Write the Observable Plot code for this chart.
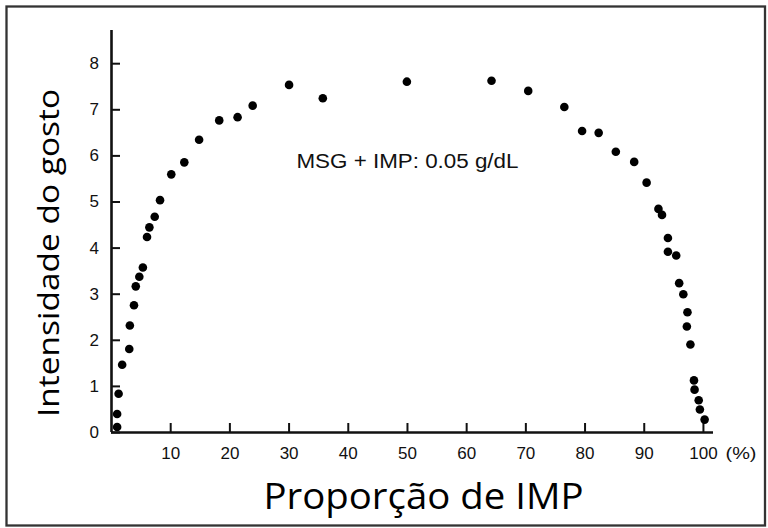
<!DOCTYPE html>
<html>
<head>
<meta charset="utf-8">
<script src="https://cdn.jsdelivr.net/npm/d3@7"></script>
<script src="https://cdn.jsdelivr.net/npm/@observablehq/plot@0.6"></script>
<style>
  html, body { margin: 0; padding: 0; background: #fff; }
  #chart { width: 768px; height: 528px; }
</style>
</head>
<body>
<div id="chart"></div>
<script>
// Proportion of IMP (%) in the MSG + IMP mixture
const imp = [0.95, 0.95, 1.2, 1.8, 3.0, 3.1, 3.8, 4.1, 4.7, 5.3, 6.0, 6.4, 7.3, 8.2,
  10.1, 12.3, 14.8, 18.2, 21.3, 23.85, 30.0, 35.7, 49.9, 64.2, 70.4, 76.5, 79.5,
  82.3, 85.2, 88.3, 90.4, 92.4, 93.0, 94.0, 94.0, 95.4, 95.9, 96.6, 97.3, 97.2,
  97.8, 98.4, 98.5, 99.2, 99.4, 100.2];
// Taste intensity
const intensity = [0.12, 0.40, 0.84, 1.47, 1.81, 2.32, 2.76, 3.17, 3.38, 3.58, 4.24,
  4.45, 4.68, 5.04, 5.60, 5.86, 6.35, 6.77, 6.84, 7.09, 7.54, 7.25, 7.61, 7.63,
  7.41, 7.06, 6.54, 6.50, 6.09, 5.87, 5.42, 4.85, 4.72, 4.22, 3.92, 3.84, 3.24,
  3.00, 2.61, 2.30, 1.91, 1.13, 0.93, 0.70, 0.50, 0.28];
const xTicks = [10, 20, 30, 40, 50, 60, 70, 80, 90, 100];
const yTicks = [0, 1, 2, 3, 4, 5, 6, 7, 8];
const xDomain = [0, 101.7];
const yDomain = [0, 8.72];
const xTitle = "Proporção de IMP";
const yTitle = "Intensidade do gosto";
const unitLabel = "(%)";
const annotation = [{x: 50, y: 5.88, text: "MSG + IMP: 0.05 g/dL"}];

const points = imp.map((x, i) => ({x, y: intensity[i]}));

const W = 768, H = 528;
const mL = 111, mR = 55, mT = 30, mB = 96;
const frameW = W - mL - mR, frameH = H - mT - mB;
const tickLen = 9;

const tickFont = "'Liberation Sans', Arial, sans-serif";
const titleFont = "'Open Sans', 'Noto Sans', sans-serif";

const chart = Plot.plot({
  width: W,
  height: H,
  marginLeft: mL,
  marginRight: mR,
  marginTop: mT,
  marginBottom: mB,
  style: {background: "#fff", overflow: "visible"},
  x: {domain: xDomain},
  y: {domain: yDomain},
  marks: [
    Plot.frame({stroke: "#333", strokeWidth: 2.3, insetLeft: -105, insetTop: -24, insetRight: -51.5, insetBottom: -93}),
    // inward ticks
    Plot.ruleX(xTicks, {stroke: "#111", strokeWidth: 2, insetTop: frameH - tickLen}),
    Plot.ruleY(yTicks, {stroke: "#111", strokeWidth: 2, insetRight: frameW - tickLen}),
    // tick labels
    Plot.axisX(xTicks, {anchor: "bottom", tickSize: 0, tickPadding: 14, fontSize: 17, fontFamily: tickFont, fill: "#111", label: null}),
    Plot.axisY(yTicks, {anchor: "left", tickSize: 0, tickPadding: 12.5, fontSize: 17, fontFamily: tickFont, fill: "#111", label: null}),
    Plot.text([unitLabel], {frameAnchor: "bottom-right", dx: 12, dy: 21, textAnchor: "start", lineAnchor: "middle", fontSize: 17, fontFamily: tickFont, fill: "#111"}),
    // axis lines
    Plot.ruleY([0], {stroke: "#111", strokeWidth: 2.6}),
    Plot.ruleX([0], {stroke: "#111", strokeWidth: 2.6}),
    // data
    Plot.dot(points, {x: "x", y: "y", r: 4.3, fill: "#000", stroke: "none"}),
    // annotation
    Plot.text(annotation, {x: "x", y: "y", text: "text", fontSize: 20, fontFamily: tickFont, fill: "#111", lineAnchor: "middle"}),
    // titles
    Plot.text([xTitle], {frameAnchor: "bottom", dx: 11, dy: 76.3, textAnchor: "middle", lineAnchor: "bottom", fontSize: 37, fontFamily: titleFont, fill: "#000"}),
    Plot.text([yTitle], {frameAnchor: "left", dx: -52.7, dy: 21.5, rotate: -90, textAnchor: "middle", lineAnchor: "bottom", fontSize: 30, fontFamily: titleFont, fill: "#000"})
  ]
});

document.getElementById("chart").appendChild(chart);

// fit text widths to the reference
const fits = {
  [xTitle]: 320,
  [yTitle]: 328,
  [annotation[0].text]: 222,
  [unitLabel]: 31
};
d3.select(chart).selectAll("text").each(function() {
  const t = this.textContent;
  if (fits[t] !== undefined) {
    d3.select(this).attr("textLength", fits[t]).attr("lengthAdjust", "spacingAndGlyphs");
  }
});
</script>
</body>
</html>
